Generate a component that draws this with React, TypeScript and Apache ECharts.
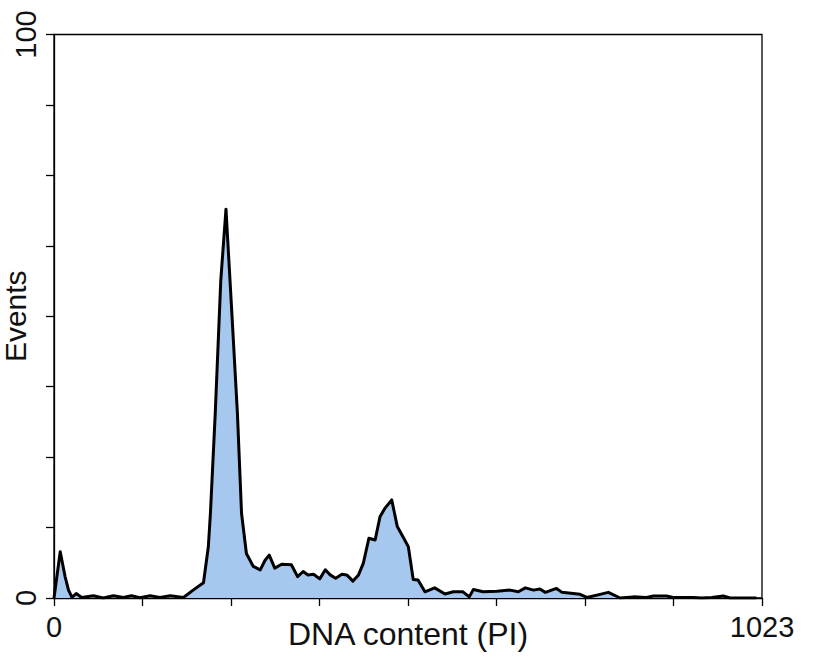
import React, { useEffect, useRef } from "react";
import * as echarts from "echarts";

// DNA channel (0..1023) and event counts
const channels = [
  0, 9, 16, 21, 26, 32, 40, 57, 71, 86, 100, 112, 124, 139, 153, 168, 187, 201, 216,
  223, 226, 233, 241, 248.5, 257, 265, 271, 278, 288, 298, 305, 311, 319, 329, 343,
  352, 360, 367, 375, 384, 392, 399, 407, 416, 423, 432, 440, 447, 455, 464, 471, 478,
  488, 496, 504, 512, 519, 526, 536, 550, 565, 577, 591, 600, 606, 620, 640, 659, 671,
  681, 693, 702, 710, 726, 734, 760, 770, 789, 801, 818, 837, 856, 866, 885, 895, 924,
  936, 950, 967, 977, 1015,
];
const events = [
  0, 8.2, 3.8, 1.4, 0.1, 0.8, 0.1, 0.4, 0.0, 0.4, 0.1, 0.4, 0.05, 0.4, 0.1, 0.4, 0.1, 1.4, 2.7,
  9.1, 15.0, 32.8, 56.4, 69.0, 50.5, 32.8, 15.0, 7.9, 5.6, 5.0, 6.7, 7.6, 5.3, 6.0, 5.9,
  3.8, 4.7, 4.1, 4.2, 3.4, 5.0, 4.1, 3.5, 4.2, 4.1, 3.0, 4.1, 6.2, 10.6, 10.3, 14.4, 15.9,
  17.4, 12.7, 10.9, 9.1, 3.3, 3.2, 1.1, 1.8, 0.7, 1.1, 1.1, 0.2, 1.5, 1.1, 1.2, 1.4, 1.1,
  1.8, 1.4, 1.6, 1.0, 1.7, 1.0, 0.65, 0.1, 0.65, 1.0, 0.0, 0.2, 0.1, 0.35, 0.35, 0.1, 0.1,
  0.0, 0.1, 0.35, 0.0, 0.0,
];
const xTickLabels = [0, 1023];
const yTickLabels = [0, 100];

export default function App() {
  const ref = useRef<HTMLDivElement>(null);
  useEffect(() => {
    if (!ref.current) return;
    const chart = echarts.init(ref.current, undefined, { renderer: "svg" });
    const font = "'Liberation Sans', Arial, Helvetica, sans-serif";
    chart.setOption({
      animation: false,
      backgroundColor: "#ffffff",
      grid: {
        left: 54,
        right: 51,
        top: 34.5,
        bottom: 67,
        containLabel: false,
        outerBoundsMode: "none",
        show: true,
        borderColor: "#000",
        borderWidth: 1.3,
        backgroundColor: "transparent",
      },
      xAxis: {
        type: "value",
        min: 0,
        max: 1023,
        interval: 1023 / 8,
        name: "DNA content (PI)",
        nameLocation: "middle",
        nameGap: 20,
        nameMoveOverlap: false,
        nameTextStyle: { fontFamily: font, fontSize: 32, color: "#111" },
        axisLine: { show: true, lineStyle: { color: "#000", width: 1.3 } },
        axisTick: { show: true, length: 8, lineStyle: { color: "#000", width: 1.3 } },
        splitLine: { show: false },
        axisLabel: {
          show: true,
          showMinLabel: true,
          showMaxLabel: true,
          fontFamily: font,
          fontSize: 29,
          color: "#111",
          margin: 14,
          formatter: (v: number) => (xTickLabels.includes(Math.round(v * 1000) / 1000) ? String(v) : ""),
        },
      },
      yAxis: {
        type: "value",
        min: 0,
        max: 100,
        interval: 12.5,
        name: "Events",
        nameLocation: "middle",
        nameRotate: 90,
        nameGap: 24,
        nameMoveOverlap: false,
        nameTextStyle: { fontFamily: font, fontSize: 30, lineHeight: 30, color: "#111" },
        axisLine: { show: true, lineStyle: { color: "#000", width: 1.3 } },
        axisTick: { show: true, length: 8, lineStyle: { color: "#000", width: 1.3 } },
        splitLine: { show: false },
        axisLabel: {
          show: true,
          showMinLabel: true,
          showMaxLabel: true,
          rotate: 90,
          fontFamily: font,
          fontSize: 29,
          color: "#111",
          margin: 14,
          formatter: (v: number) => (yTickLabels.includes(v) ? String(v) : ""),
        },
      },
      series: [
        {
          type: "line",
          data: channels.map((c, i) => [c, events[i]]),
          showSymbol: false,
          symbol: "none",
          lineStyle: { color: "#000", width: 3, join: "round" },
          areaStyle: { color: "#a6c8ee", opacity: 1 },
          z: 3,
        },
      ],
    });
    return () => chart.dispose();
  }, []);
  return <div ref={ref} style={{ width: 813, height: 665, position: "absolute", left: 0, top: 0 }} />;
}
